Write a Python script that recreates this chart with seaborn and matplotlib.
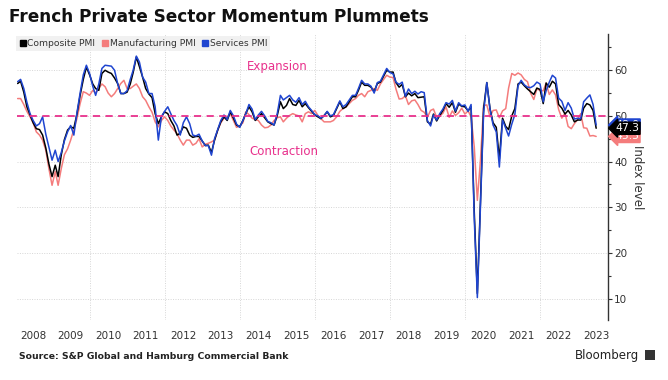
import pandas as pd
import numpy as np
import seaborn as sns
import matplotlib.pyplot as plt
import matplotlib.dates as mdates
import matplotlib.transforms as mtransforms
from matplotlib.lines import Line2D
from matplotlib.patches import Rectangle

sns.set_style("white")
plt.rcParams['font.family'] = ['DejaVu Sans']

# monthly PMI readings, Jan 2008 - Jun 2023
composite = [
    57.1, 57.6, 55.2, 52.0, 50.2, 48.5, 47.2, 47.0, 45.8, 43.0, 39.5, 36.7,  # 2008
    39.2, 36.7, 41.5, 44.8, 46.9, 47.6, 47.3, 50.5, 54.5, 58.0, 60.7, 59.0,  # 2009
    57.0, 56.0, 55.6, 59.3, 60.0, 59.6, 59.3, 58.3, 57.1, 54.9, 54.9, 55.2,  # 2010
    57.0, 59.5, 62.9, 60.8, 58.5, 56.0, 54.8, 54.0, 50.5, 48.3, 49.8, 50.9,  # 2011
    50.5, 49.0, 47.8, 45.8, 46.2, 47.6, 47.3, 45.8, 45.3, 45.5, 45.5, 44.5,  # 2012
    43.5, 43.6, 42.0, 44.7, 46.9, 48.7, 49.8, 49.0, 50.9, 49.5, 48.0, 47.6,  # 2013
    49.0, 50.5, 52.0, 50.9, 49.0, 49.8, 50.5, 49.6, 48.7, 48.3, 48.0, 50.1,  # 2014
    53.1, 51.6, 52.3, 53.8, 52.5, 52.3, 53.4, 52.0, 52.7, 51.8, 51.0, 50.2,  # 2015
    49.8, 49.4, 50.1, 50.9, 49.8, 50.1, 51.6, 53.1, 51.6, 52.0, 53.1, 54.2,  # 2016
    54.2, 55.6, 57.4, 56.7, 56.7, 56.3, 55.3, 57.1, 57.4, 58.7, 60.0, 59.6,  # 2017
    59.6, 57.3, 56.3, 56.9, 54.2, 55.0, 54.4, 54.9, 54.0, 54.1, 54.2, 48.7,  # 2018
    48.2, 50.4, 48.9, 50.1, 51.2, 52.7, 51.9, 52.9, 50.8, 52.6, 52.1, 52.0,  # 2019
    51.1, 52.0, 28.9, 11.1, 32.1, 51.7, 57.3, 51.6, 48.5, 47.5, 40.6, 49.5,  # 2020
    47.7, 47.0, 50.0, 51.6, 57.0, 57.4, 56.6, 55.9, 55.3, 54.7, 56.1, 55.8,  # 2021
    52.7, 57.2, 56.3, 57.6, 57.0, 52.5, 51.7, 50.4, 51.2, 50.2, 48.7, 49.1,  # 2022
    49.1, 51.7, 52.7, 52.4, 51.2, 47.3,                                      # 2023
]
manufacturing = [
    53.8, 53.8, 52.5, 51.0, 49.8, 48.5, 46.5, 45.8, 44.7, 42.5, 38.5, 34.8,  # 2008
    37.8, 34.8, 38.5, 41.5, 42.8, 44.7, 47.0, 49.5, 52.7, 55.3, 55.0, 54.5,  # 2009
    55.6, 55.0, 56.0, 57.0, 56.4, 55.0, 54.2, 54.9, 56.0, 57.1, 57.8, 56.0,  # 2010
    56.0, 56.5, 57.0, 56.0, 54.2, 53.4, 52.0, 50.8, 48.7, 47.6, 49.0, 49.8,  # 2011
    49.0, 47.8, 46.9, 46.1, 44.7, 43.6, 44.7, 44.7, 43.6, 44.0, 45.0, 43.2,  # 2012
    43.8, 44.0, 44.3, 44.7, 46.9, 48.5, 49.5, 49.8, 50.5, 49.0, 47.5, 47.8,  # 2013
    48.5, 50.9, 50.3, 49.5, 49.2, 49.0, 48.0, 47.4, 47.5, 48.0, 49.0, 49.6,  # 2014
    49.8, 48.7, 49.5, 50.1, 50.5, 50.2, 50.0, 48.7, 50.5, 50.9, 50.5, 51.2,  # 2015
    50.1, 49.4, 48.7, 48.7, 48.7, 49.0, 49.8, 51.0, 51.6, 52.0, 52.7, 53.4,  # 2016
    53.8, 54.5, 54.9, 54.2, 55.3, 55.6, 56.0, 55.6, 57.0, 58.0, 58.9, 58.5,  # 2017
    58.4, 55.9, 53.7, 53.8, 54.4, 52.5, 53.3, 53.5, 52.5, 51.2, 50.8, 49.7,  # 2018
    51.2, 51.5, 49.7, 50.0, 50.6, 52.0, 49.7, 51.1, 50.1, 50.7, 51.7, 50.4,  # 2019
    51.1, 49.8, 43.2, 31.5, 40.6, 52.3, 52.4, 49.8, 51.2, 51.3, 49.6, 51.1,  # 2020
    51.6, 56.1, 59.3, 58.9, 59.4, 59.0, 58.0, 57.5, 55.0, 53.6, 55.9, 55.6,  # 2021
    55.5, 57.2, 54.7, 55.7, 54.6, 51.4, 49.5, 50.6, 47.7, 47.2, 48.3, 49.2,  # 2022
    50.5, 47.4, 47.3, 45.6, 45.7, 45.5,                                      # 2023
]
services = [
    57.5, 58.0, 56.0, 53.0, 50.5, 49.0, 47.8, 48.3, 49.8, 46.0, 43.2, 40.3,  # 2008
    42.5, 40.0, 42.0, 44.5, 46.5, 47.9, 45.8, 50.8, 55.0, 59.0, 61.1, 59.3,  # 2009
    56.5, 54.5, 57.0, 60.4, 61.1, 61.0, 60.9, 60.0, 57.1, 54.9, 54.9, 55.5,  # 2010
    58.0, 60.0, 63.1, 61.8, 58.5, 57.4, 54.9, 54.9, 52.0, 44.7, 49.8, 51.0,  # 2011
    52.0, 50.5, 49.0, 47.9, 45.8, 48.5, 49.8, 48.3, 45.8, 45.6, 46.0, 44.5,  # 2012
    43.5, 43.5, 41.4, 45.0, 47.0, 49.0, 50.2, 49.2, 51.2, 50.0, 48.2, 47.5,  # 2013
    49.0, 50.5, 52.5, 51.5, 49.2, 50.2, 51.0, 50.0, 48.8, 48.5, 48.0, 50.5,  # 2014
    54.5, 53.5, 54.0, 54.5, 53.5, 53.0, 54.0, 52.5, 53.2, 52.0, 51.2, 50.3,  # 2015
    50.0, 49.5, 50.0, 51.0, 50.0, 50.3, 51.8, 53.3, 52.0, 52.5, 53.5, 54.5,  # 2016
    54.5, 56.0, 57.8, 57.0, 57.0, 56.5, 55.0, 57.3, 57.6, 59.0, 60.4, 59.5,  # 2017
    59.2, 57.4, 56.9, 57.4, 54.3, 55.9, 54.9, 55.4, 54.8, 55.3, 55.1, 49.0,  # 2018
    47.8, 50.2, 49.1, 50.5, 51.5, 52.9, 52.6, 53.4, 51.1, 52.9, 52.2, 52.4,  # 2019
    51.0, 52.5, 27.4, 10.2, 31.1, 50.7, 57.3, 51.5, 48.0, 46.5, 38.8, 49.1,  # 2020
    47.3, 45.6, 48.2, 50.3, 56.6, 57.8, 56.8, 56.3, 56.2, 56.6, 57.4, 57.0,  # 2021
    53.1, 55.5, 57.4, 58.9, 58.3, 53.9, 53.2, 51.2, 52.9, 51.7, 49.3, 49.5,  # 2022
    49.4, 53.1, 53.9, 54.6, 52.5, 48.0,                                      # 2023
]
series_names = ['Composite PMI', 'Manufacturing PMI', 'Services PMI']
colors = {'Composite PMI': '#000000', 'Manufacturing PMI': '#f47c7c', 'Services PMI': '#1f45d0'}

dates = pd.date_range('2008-01-31', periods=len(composite), freq='ME')
df = pd.DataFrame({'date': dates, 'Composite PMI': composite,
                   'Manufacturing PMI': manufacturing, 'Services PMI': services})
long = df.melt(id_vars='date', var_name='series', value_name='value')

fig = plt.figure(figsize=(6.68, 3.8), dpi=100)
ax = fig.add_axes([0.025, 0.158, 0.885, 0.752])

# draw order: manufacturing under, then composite, services on top
for name, z in [('Manufacturing PMI', 2), ('Composite PMI', 3), ('Services PMI', 4)]:
    sns.lineplot(data=long[long.series == name], x='date', y='value', color=colors[name],
                 lw=1.1, ax=ax, zorder=z, legend=False)

ax.axhline(50, color='#e8318c', lw=1.3, ls=(0, (4, 3)), zorder=5)
ax.text(pd.Timestamp('2015-01-01'), 60.9, 'Expansion', color='#e8318c', fontsize=8.5,
        ha='center', va='center')
ax.text(pd.Timestamp('2015-03-01'), 42.1, 'Contraction', color='#e8318c', fontsize=8.5,
        ha='center', va='center')

ax.set_xlim(pd.Timestamp('2008-01-22'), pd.Timestamp('2023-10-22'))
ax.set_ylim(5.3, 67.9)

# axis cosmetics
for s in ['left', 'top', 'bottom']:
    ax.spines[s].set_visible(False)
ax.spines['right'].set_color('#333333')
ax.spines['right'].set_linewidth(1.0)
ax.yaxis.tick_right()
ax.yaxis.set_label_position('right')
ax.set_yticks([10, 20, 30, 40, 50, 60])
ax.set_yticks(np.arange(15, 66, 10), minor=True)
ax.tick_params(axis='y', which='major', direction='out', length=3, width=0.8,
               colors='#333333', labelsize=7.5, pad=1.5)
ax.tick_params(axis='y', which='minor', direction='out', length=2, width=0.8, color='#333333')
ax.set_ylabel('Index level', rotation=270, labelpad=12, fontsize=8.5, color='#333333')
ax.set_xlabel('')

ax.xaxis.set_major_locator(mdates.YearLocator(2))
ax.xaxis.set_major_formatter(plt.NullFormatter())
ax.xaxis.set_minor_locator(mdates.MonthLocator(bymonth=7))
ax.xaxis.set_minor_formatter(mdates.DateFormatter('%Y'))
ax.tick_params(axis='x', which='both', length=0, labelsize=7.5, colors='#333333', pad=8)
ax.grid(which='major', axis='both', color='#d6d6d6', lw=0.7, ls=(0, (1, 1.5)))
ax.grid(which='minor', visible=False)

# legend with square markers
handles = [Line2D([], [], marker='s', ls='', color=colors[n], markersize=5) for n in series_names]
leg = ax.legend(handles, series_names, loc='upper left', bbox_to_anchor=(-0.005, 1.0),
                ncol=3, fontsize=6.6, frameon=True, fancybox=False, borderpad=0.35,
                handletextpad=0.05, columnspacing=0.6, handlelength=0.9, borderaxespad=0.2,
                labelcolor='#333333')
leg.get_frame().set_facecolor('#eeeeee')
leg.get_frame().set_edgecolor('none')
leg.set_zorder(10)

# last-value tags on the axis
trans = mtransforms.blended_transform_factory(ax.transAxes, ax.transData)
for name, z in [('Services PMI', 11), ('Manufacturing PMI', 12), ('Composite PMI', 13)]:
    v = df[name].iloc[-1]
    ax.text(1.012, v, f'{v:.1f}', transform=trans, ha='left', va='center', color='white',
            fontsize=7.8, zorder=z, clip_on=False,
            bbox=dict(boxstyle='larrow,pad=0.1', fc=colors[name], ec=colors[name]))

fig.text(0.013, 0.955, 'French Private Sector Momentum Plummets', fontsize=12.2,
         fontweight='bold', ha='left', va='center', color='#111111')
fig.text(0.028, 0.063, 'Source: S&P Global and Hamburg Commercial Bank', fontsize=6.7,
         fontweight='bold', ha='left', va='center', color='#222222')
fig.text(0.957, 0.065, 'Bloomberg', fontsize=8.5, ha='right', va='center', color='#222222')
fig.patches.append(Rectangle((0.965, 0.052), 0.015, 0.028, transform=fig.transFigure,
                             fc='#333333', ec='none'))

fig.savefig('out.png', dpi=100)
